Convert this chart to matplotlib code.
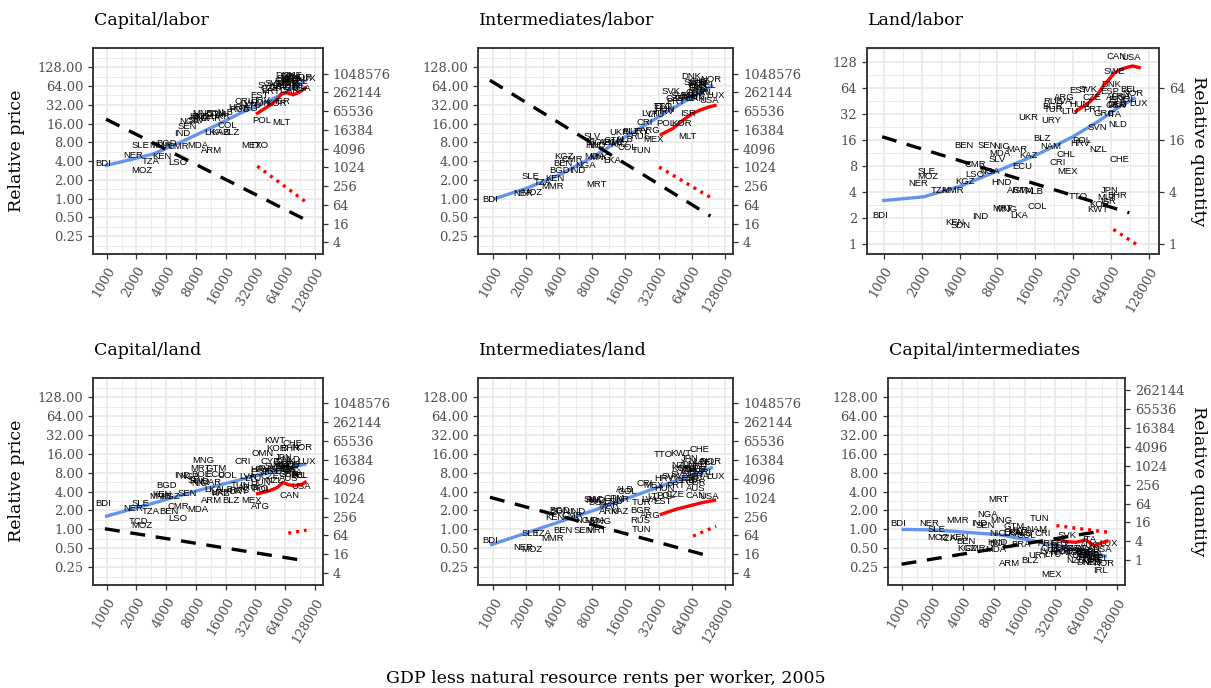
import matplotlib.pyplot as plt
from matplotlib.ticker import FixedLocator, NullLocator, NullFormatter

plt.rcParams['font.family'] = ['DejaVu Serif']

# GDP less natural resource rents per worker, 2005 (x position of every country)
gdp = {
    'BDI': 930, 'NER': 1870, 'SLE': 2200, 'MOZ': 2250, 'TCD': 2100, 'TZA': 2800,
    'MMR': 3500, 'KEN': 3650, 'BGD': 4000, 'SDN': 4100, 'BEN': 4300, 'KGZ': 4400,
    'CMR': 5300, 'LSO': 5300, 'IND': 5800, 'SEN': 6600, 'NGA': 6900, 'SLV': 8000,
    'MDA': 8400, 'NIC': 8600, 'HND': 8600, 'MRT': 8800, 'BOL': 9000, 'MNG': 9400,
    'MAR': 11300, 'ARM': 11500, 'LKA': 12000, 'ECU': 12500, 'GTM': 12700,
    'KAZ': 14000, 'UKR': 14000, 'BRA': 14800, 'ALB': 15800, 'COL': 16500,
    'BLZ': 18000, 'NAM': 21000, 'URY': 21500, 'RUS': 22000, 'BGR': 22000,
    'TUR': 22500, 'TUN': 22500, 'CRI': 24000, 'LVA': 26500, 'ARG': 27000,
    'CHL': 28000, 'MEX': 29000, 'LTU': 30000, 'EST': 35000, 'TTO': 35000,
    'ATG': 36000, 'HUN': 36000, 'HRV': 36000, 'POL': 37000, 'OMN': 38000,
    'SVK': 42000, 'CZE': 45000, 'CYP': 45000, 'PRT': 46000, 'SVN': 50000,
    'NZL': 50000, 'KWT': 50500, 'KOR': 52000, 'GRC': 56000, 'MLT': 59000,
    'ISR': 60000, 'ESP': 62000, 'JPN': 62000, 'DNK': 64000, 'SWE': 68000,
    'ITA': 68000, 'CAN': 70000, 'AUS': 70000, 'GBR': 70000, 'FIN': 70000,
    'NLD': 72000, 'DEU': 72000, 'BHR': 72000, 'AUT': 74000, 'CHE': 75000,
    'FRA': 76000, 'IRL': 88000, 'BEL': 88000, 'USA': 92000, 'NOR': 95000,
    'LUX': 105000,
}

# relative prices by country, one dict per panel
cap_lab = {
    'BDI': 3.67, 'NER': 5.0, 'SLE': 7.0, 'MOZ': 2.86, 'TZA': 3.9, 'KEN': 4.68,
    'LSO': 3.81, 'MMR': 7.0, 'BGD': 7.7, 'CMR': 6.8, 'IND': 11.1, 'SEN': 14.5,
    'NGA': 17, 'NIC': 19, 'HND': 20.5, 'SLV': 18, 'MNG': 23, 'BOL': 21,
    'MAR': 19.5, 'GTM': 22, 'ECU': 23, 'UKR': 21, 'ALB': 24, 'MDA': 7.0,
    'ARM': 6.0, 'LKA': 11.5, 'KAZ': 11.5, 'BLZ': 11.5, 'COL': 14.7, 'URY': 29,
    'CRI': 36, 'RUS': 27, 'LVA': 33, 'ARG': 28, 'LTU': 31, 'MEX': 7.2,
    'TTO': 7.0, 'POL': 18.2, 'MLT': 16.5, 'HRV': 38, 'EST': 45, 'HUN': 34,
    'SVK': 66, 'CZE': 58, 'PRT': 52, 'KOR': 33, 'ISR': 36, 'GRC': 60,
    'SVN': 70, 'ESP': 75, 'JPN': 68, 'DNK': 95, 'SWE': 85, 'FIN': 78,
    'NLD': 70, 'DEU': 90, 'AUT': 80, 'FRA': 82, 'ITA': 72, 'AUS': 60,
    'GBR': 65, 'CAN': 55, 'IRL': 62, 'BEL': 75, 'CHE': 95, 'NOR': 88,
    'USA': 59, 'LUX': 85,
}
int_lab = {
    'BDI': 0.98, 'NER': 1.21, 'MOZ': 1.24, 'SLE': 2.3, 'KEN': 2.1, 'TZA': 1.8,
    'MMR': 1.55, 'BGD': 2.8, 'IND': 2.8, 'BEN': 3.67, 'KGZ': 4.8, 'CMR': 4.25,
    'NGA': 3.36, 'MRT': 1.69, 'SLV': 9.8, 'HND': 7.0, 'NIC': 7.0, 'MDA': 4.7,
    'MNG': 4.6, 'LKA': 4.15, 'TUN': 5.85, 'ARM': 8, 'KAZ': 7.5, 'GTM': 8.5,
    'ECU': 8, 'ALB': 9, 'COL': 6.5, 'BOL': 8, 'UKR': 11.5, 'BLZ': 12.1,
    'CRI': 16.4, 'ARG': 12.5, 'MEX': 9, 'RUS': 10, 'URY': 12, 'MLT': 9.8,
    'POL': 16, 'KOR': 16, 'ISR': 23, 'TTO': 29.7, 'LVA': 23, 'LTU': 22,
    'SVK': 51.6, 'PRT': 36, 'CZE': 40, 'EST': 30, 'HUN': 27, 'HRV': 25,
    'GRC': 40, 'SVN': 45, 'DNK': 90, 'NOR': 80, 'CHE': 75, 'SWE': 72,
    'DEU': 70, 'BEL': 65, 'FIN': 60, 'AUT': 68, 'NLD': 62, 'FRA': 55,
    'GBR': 50, 'ITA': 48, 'ESP': 45, 'JPN': 42, 'AUS': 44, 'CAN': 40,
    'IRL': 50, 'LUX': 45.7, 'USA': 38,
}
land_lab = {
    'BDI': 2.18, 'KEN': 1.78, 'SDN': 1.67, 'IND': 2.09, 'NER': 5.1, 'MOZ': 6.06,
    'SLE': 7.0, 'TZA': 4.25, 'MMR': 4.25, 'KGZ': 5.3, 'CMR': 8.3, 'LSO': 6.5,
    'NGA': 6.9, 'HND': 5.2, 'ECU': 7.9, 'BEN': 14.1, 'SEN': 14.1, 'NIC': 13.5,
    'MDA': 11.3, 'MAR': 12.4, 'SLV': 9.7, 'KAZ': 10.8, 'BLZ': 16.9, 'ARM': 4.2,
    'GTM': 4.2, 'ALB': 4.05, 'MRT': 2.6, 'MNG': 2.5, 'COL': 2.73, 'LKA': 2.13,
    'UKR': 29.5, 'URY': 27, 'CRI': 8.8, 'MEX': 6.9, 'TTO': 3.56, 'KWT': 2.5,
    'KOR': 2.93, 'JPN': 4.25, 'BHR': 3.7, 'MLT': 3.5, 'ISR': 3.1, 'NZL': 12.4,
    'CHE': 9.7, 'NLD': 24.5, 'SVN': 22.4, 'GRC': 33, 'ITA': 32, 'HRV': 14.8,
    'POL': 16.1, 'NAM': 13.5, 'CHL': 11.1, 'CAN': 150, 'USA': 144, 'SWE': 99,
    'DNK': 70, 'EST': 60, 'SVK': 62, 'ESP': 59, 'BEL': 62, 'FIN': 47,
    'IRL': 47, 'ARG': 50, 'CZE': 49.5, 'RUS': 45, 'LVA': 45, 'BGR': 39.6,
    'TUR': 36, 'LTU': 34.7, 'PRT': 36, 'HUN': 41, 'DEU': 41, 'AUT': 41,
    'GBR': 40, 'LUX': 43, 'FRA': 52, 'NOR': 55, 'AUS': 50,
}
cap_land = {
    'BDI': 2.54, 'NER': 2.15, 'SLE': 2.63, 'TZA': 1.91, 'BEN': 1.91, 'CMR': 2.32,
    'MDA': 2.05, 'LSO': 1.51, 'TCD': 1.33, 'MOZ': 1.14, 'KEN': 3.54, 'MMR': 3.4,
    'KGZ': 3.3, 'BGD': 5.1, 'SEN': 3.75, 'IND': 7.2, 'NGA': 7.0, 'NIC': 5.4,
    'HND': 5.8, 'MAR': 5.6, 'MNG': 12.6, 'MRT': 9.4, 'GTM': 9.4, 'BOL': 7.5,
    'ECU': 7.5, 'SLV': 6.0, 'KAZ': 3.67, 'UKR': 3.9, 'ARM': 2.87, 'BLZ': 2.87,
    'LKA': 4.25, 'ALB': 4.4, 'COL': 7.3, 'HRV': 8.9, 'CRI': 12.2, 'CYP': 12.2,
    'OMN': 16.4, 'KWT': 26.2, 'KOR': 19.3, 'CHE': 23.3, 'NOR': 20, 'BHR': 19.5,
    'MEX': 2.87, 'ATG': 2.32, 'CAN': 3.44, 'USA': 4.86, 'LUX': 12.1, 'IRL': 7.2,
    'BEL': 7.2, 'TUN': 5.0, 'TTO': 4.5, 'POL': 4.3, 'URY': 4.0, 'ARG': 4.6,
    'LVA': 7.0, 'LTU': 6.6, 'EST': 8.0, 'HUN': 5.5, 'SVK': 9.5, 'CZE': 7.0,
    'PRT': 8.5, 'SVN': 10, 'GRC': 9.0, 'MLT': 11, 'ISR': 10, 'ESP': 8.5,
    'JPN': 14, 'DNK': 12, 'SWE': 10.5, 'FIN': 9, 'NLD': 13, 'DEU': 11,
    'AUT': 10, 'FRA': 8.0, 'ITA': 9.5, 'GBR': 7.5, 'AUS': 6.5, 'NZL': 6.0,
    'RUS': 4.2,
}
int_land = {
    'BDI': 0.67, 'NER': 0.52, 'MOZ': 0.48, 'SLE': 0.87, 'TZA': 0.87, 'MMR': 0.71,
    'BEN': 0.97, 'KEN': 1.55, 'BGD': 1.98, 'SDN': 1.9, 'CMR': 1.65, 'IND': 1.9,
    'MDA': 1.4, 'SEN': 0.97, 'MRT': 0.97, 'NGA': 1.4, 'MNG': 1.35, 'SLV': 3.0,
    'HND': 2.9, 'NIC': 3.0, 'GTM': 3.1, 'ECU': 2.8, 'BOL': 2.7, 'MAR': 2.4,
    'KAZ': 1.9, 'ARM': 1.9, 'ALB': 4.4, 'COL': 4.0, 'UKR': 3.05, 'RUS': 1.37,
    'TUN': 0.98, 'BGR': 2.0, 'TUR': 2.7, 'ARG': 1.65, 'EST': 2.76, 'CRI': 5.4,
    'MEX': 5.0, 'HRV': 6.4, 'SVK': 6.96, 'TTO': 15.7, 'KWT': 16.4, 'CHE': 18.6,
    'JPN': 13.4, 'NZL': 10.4, 'KOR': 9.2, 'LUX': 7.0, 'USA': 3.3, 'CAN': 3.44,
    'CZE': 3.6, 'POL': 3.5, 'LVA': 3.0, 'LTU': 3.3, 'HUN': 4.5, 'PRT': 5.0,
    'SVN': 7.5, 'GRC': 6.0, 'MLT': 9.5, 'ISR': 8.5, 'ESP': 6.5, 'DNK': 11,
    'SWE': 9.0, 'FIN': 7.5, 'NLD': 12, 'DEU': 10, 'AUT': 9.0, 'FRA': 7.0,
    'ITA': 6.0, 'GBR': 5.5, 'AUS': 4.5, 'IRL': 8.0, 'BEL': 11.5, 'NOR': 12,
}
cap_int = {
    'BDI': 1.22, 'NER': 1.25, 'SLE': 0.98, 'MOZ': 0.73, 'TZA': 0.72, 'BEN': 0.64,
    'KEN': 0.75, 'MMR': 1.41, 'KGZ': 0.5, 'CMR': 0.5, 'MDA': 0.47, 'IND': 1.25,
    'SEN': 1.17, 'NGA': 1.72, 'MRT': 2.95, 'MNG': 1.38, 'GTM': 1.12, 'NIC': 0.86,
    'LKA': 0.85, 'ALB': 0.85, 'TUN': 1.5, 'HND': 0.62, 'BRA': 0.58, 'ARM': 0.29,
    'BLZ': 0.32, 'MEX': 0.19, 'NAM': 1.0, 'CHL': 0.5, 'URY': 0.38, 'LTU': 0.4,
    'SVK': 0.79, 'ITA': 0.7, 'LUX': 0.6, 'USA': 0.47, 'KOR': 0.38, 'JPN': 0.36,
    'DNK': 0.3, 'BEL': 0.34, 'IRL': 0.22, 'NZL': 0.32, 'EST': 0.55, 'CZE': 0.5,
    'POL': 0.45, 'TTO': 0.6, 'HRV': 0.42, 'CRI': 0.85, 'ARG': 0.6, 'LVA': 0.45,
    'MLT': 0.42, 'ISR': 0.4, 'ESP': 0.45, 'SWE': 0.38, 'FIN': 0.35, 'NLD': 0.3,
    'DEU': 0.33, 'AUT': 0.36, 'FRA': 0.4, 'GBR': 0.42, 'AUS': 0.55, 'CAN': 0.5,
    'GRC': 0.42, 'PRT': 0.45, 'SVN': 0.5, 'CHE': 0.32, 'NOR': 0.28, 'HUN': 0.5,
    'COL': 0.8, 'KAZ': 0.88, 'UKR': 0.95, 'ECU': 0.9, 'BOL': 0.6,
}

# fitted price curves (blue)
fit_x = [
    [960, 2960, 6450, 12000, 22300, 41600, 66200, 104000],
    [1000, 2000, 4000, 8000, 16000, 32000, 64000, 100000],
    [970, 2070, 4030, 8350, 17300, 31700, 51600, 74000, 100000],
    [960, 2750, 8800, 28200, 105000],
    [935, 9330, 100000],
    [1000, 2060, 9100, 19200, 40500, 102000],
]
fit_y = [
    [3.36, 5.2, 8.9, 14.2, 23.3, 35.7, 51.6, 79],
    [0.98, 1.46, 2.4, 4.6, 9.8, 20.5, 42, 66],
    [3.2, 3.55, 4.7, 7.25, 11.3, 17.6, 27, 39, 49.8],
    [1.6, 2.54, 4.25, 6.8, 11.1],
    [0.56, 2.16, 9.8],
    [1.0, 0.98, 0.82, 0.66, 0.51, 0.37],
]
# price series (red solid)
red_x = [
    [32400, 38400, 44900, 52400, 58900, 66200, 77200, 90500, 105000],
    [32800, 43400, 53400, 66000, 75800, 93000, 108000],
    [32700, 40500, 48500, 56500, 67700, 78800, 94400, 110000],
    [32400, 41600, 52400, 61000, 68400, 77200, 93700, 105000],
    [32800, 46600, 61500, 81200, 107000],
    [33500, 40500, 50600, 63100, 76000, 88300, 106000],
]
red_y = [
    [22.6, 27, 31.6, 38, 48.6, 49.8, 46.2, 51.6, 62],
    [10.4, 13.4, 18.2, 23.3, 26.2, 29.7, 31.6],
    [34, 41.3, 51.6, 70.5, 96, 108, 116, 110],
    [3.67, 4.0, 4.58, 5.63, 5.17, 5.0, 5.17, 5.84],
    [1.71, 2.1, 2.38, 2.69, 2.94],
    [0.7, 0.64, 0.62, 0.68, 0.55, 0.6, 0.66],
]
# quantity series (red dotted) and fitted quantities (black dashed), right axis units
dot_x = [[33400, 105000], [32400, 102000], [66600, 107000],
         [68700, 105000], [66000, 107000], [32700, 106000]]
dot_y = [[1120, 77], [1050, 96], [1.49, 0.95], [76, 94], [61, 127], [12.6, 7.7]]
dash_x = [[985, 104000], [933, 95000], [970, 89000],
          [960, 94000], [935, 97000], [1000, 76000]]
dash_y = [[36000, 21], [640000, 28], [17.6, 2.32], [105, 10.4], [1060, 13.5], [0.74, 7.7]]

titles = ['Capital/labor', 'Intermediates/labor', 'Land/labor',
          'Capital/land', 'Intermediates/land', 'Capital/intermediates']
labels = [cap_lab, int_lab, land_lab, cap_land, int_land, cap_int]
x_ticks = [1000, 2000, 4000, 8000, 16000, 32000, 64000, 128000]
price_ticks = [0.25, 0.5, 1, 2, 4, 8, 16, 32, 64, 128]
land_ticks = [1, 2, 4, 8, 16, 32, 64, 128]

# secondary axis: log2(q) = a*log2(p) + c
sec_a = [2, 2, 1, 2, 2, 2]
sec_c = [6.67, 6.67, 0, 6.65, 6.65, 3.26]
right_ticks = [[4 ** k for k in range(1, 11)]] * 2 + [[1, 4, 16, 64]] + \
              [[4 ** k for k in range(1, 11)]] * 2 + [[4 ** k for k in range(0, 10)]]

# panel boxes in pixels (left, top, right, bottom)
W, H = 1211, 688
boxes = [(93.3, 47.7, 322.7, 254), (478.3, 47.7, 733.3, 254), (866.7, 47.7, 1159, 254),
         (93.3, 377.7, 322.7, 585), (478.3, 377.7, 733.3, 585), (887.7, 377.7, 1125, 585)]

GRID = '#EBEBEB'
DARK = '#333333'
TXT = '#4D4D4D'

fig = plt.figure(figsize=(W / 100, H / 100), dpi=100)

for i in range(6):
    l, t, r, b = boxes[i]
    ax = fig.add_axes([l / W, 1 - b / H, (r - l) / W, (b - t) / H])
    ax.set_xscale('log', base=2)
    ax.set_yscale('log', base=2)
    ax.set_xlim(1000 * 2 ** -0.45, 128000 * 2 ** 0.26)
    if i == 2:
        ylo, yhi = 2 ** -0.37, 2 ** 7.56
        yt = land_ticks
        ylab = ['%g' % v for v in yt]
    else:
        ylo, yhi = 2 ** -2.95, 2 ** 8.04
        yt = price_ticks
        ylab = ['%.2f' % v for v in yt]
    ax.set_ylim(ylo, yhi)

    ax.set_xticks(x_ticks)
    ax.set_xticklabels([str(v) for v in x_ticks], rotation=60, ha='right', va='top',
                       rotation_mode='anchor')
    ax.set_yticks(yt)
    ax.set_yticklabels(ylab)
    xm = [(x_ticks[k] * x_ticks[k + 1]) ** 0.5 for k in range(len(x_ticks) - 1)]
    ym = [(yt[k] * yt[k + 1]) ** 0.5 for k in range(len(yt) - 1)]
    ym = [yt[0] / 2 ** 0.5] + ym + [yt[-1] * 2 ** 0.5]
    ax.xaxis.set_minor_locator(FixedLocator(xm))
    ax.yaxis.set_minor_locator(FixedLocator(ym))
    ax.xaxis.set_minor_formatter(NullFormatter())
    ax.yaxis.set_minor_formatter(NullFormatter())
    ax.grid(which='major', color=GRID, lw=1.3)
    ax.grid(which='minor', color=GRID, lw=0.65)
    ax.set_axisbelow(True)
    ax.tick_params(which='minor', length=0)
    ax.tick_params(which='major', length=3.5, width=0.9, color=DARK, labelcolor=TXT,
                   labelsize=9.4, pad=3.5)
    ax.tick_params(axis='x', pad=4)
    for s in ax.spines.values():
        s.set_color(DARK)
        s.set_linewidth(1.1)

    for code, v in labels[i].items():
        ax.text(gdp[code], v, code, ha='center', va='center', fontsize=6.8,
                family='Liberation Sans', color='black', clip_on=True)

    ax.plot(fit_x[i], fit_y[i], color='#6495ED', lw=2.4, solid_capstyle='butt')
    ax.plot(red_x[i], red_y[i], color='#FF0000', lw=2.4, solid_capstyle='butt')

    ax2 = ax.twinx()
    ax2.set_yscale('log', base=2)
    a, c = sec_a[i], sec_c[i]
    ax2.set_ylim(2 ** c * ylo ** a, 2 ** c * yhi ** a)
    ax2.set_yticks(right_ticks[i])
    ax2.set_yticklabels([str(v) for v in right_ticks[i]])
    ax2.yaxis.set_minor_locator(NullLocator())
    ax2.tick_params(which='major', length=3.5, width=0.9, color=DARK, labelcolor=TXT,
                    labelsize=9.4, pad=3.5)
    for s in ax2.spines.values():
        s.set_color(DARK)
        s.set_linewidth(1.1)
    ax2.plot(dash_x[i], dash_y[i], color='black', lw=2.4, dashes=(4.5, 3.2))
    ax2.plot(dot_x[i], dot_y[i], color='#FF0000', lw=2.4, dashes=(0.9, 1.5))

    fig.text((l + 1) / W, 1 - (t - 27) / H, titles[i], ha='left', va='center',
             fontsize=12.5, color='black')

for yc in [150.8, 481.3]:
    fig.text(16.7 / W, 1 - yc / H, 'Relative price', rotation=90, ha='center',
             va='center', fontsize=12.5)
    fig.text(1198.3 / W, 1 - yc / H, 'Relative quantity', rotation=270, ha='center',
             va='center', fontsize=12.5)
fig.text(606 / W, 1 - 678.3 / H, 'GDP less natural resource rents per worker, 2005',
         ha='center', va='center', fontsize=12.5)

fig.savefig('out.png', dpi=100, facecolor='white')
